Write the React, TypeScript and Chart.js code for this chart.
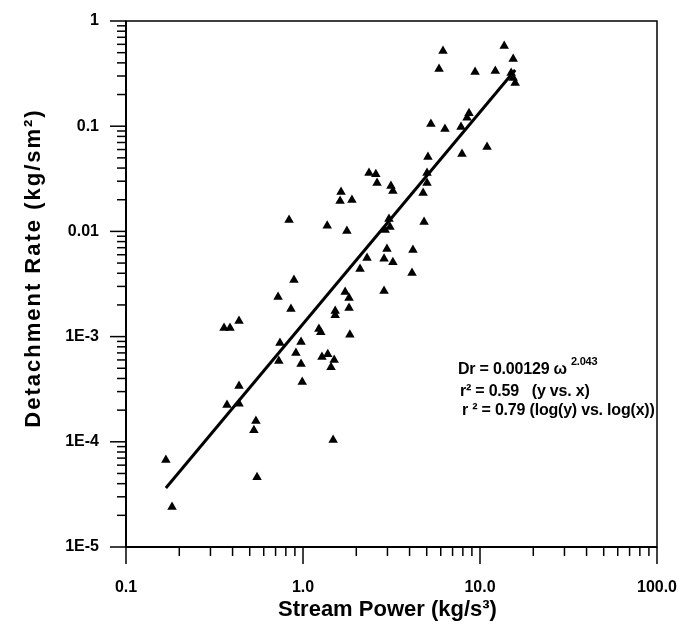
import React, { useEffect, useRef } from "react";
import { Chart, registerables } from "chart.js";

Chart.register(...registerables);

// ---- data ----
const STREAM_POWER = [
  0.168, 0.182, 0.55, 0.542, 0.528, 0.372, 0.435, 0.435, 0.358, 0.387,
  0.435, 0.723, 0.855, 0.889, 0.741, 0.73, 0.975, 0.912, 0.975, 0.99,
  1.23, 1.26, 1.28, 1.38, 1.5, 1.44, 1.48, 1.52, 1.52, 1.73,
  1.82, 1.82, 1.84, 2.87, 0.834, 1.37, 1.77, 1.64, 1.62, 1.89,
  2.1, 2.3, 2.36, 2.58, 2.62, 3.14, 3.22, 3.06, 3.1, 2.91,
  2.98, 2.87, 3.22, 4.18, 4.13, 4.83, 5.08, 5.02, 5.02, 4.77,
  5.28, 6.34, 6.18, 5.87, 7.91, 7.81, 8.45, 8.67, 10.96, 9.38,
  12.2, 13.7, 15.4, 15.0, 15.4, 15.8,
];
const DETACHMENT_RATE = [
  6.7e-5, 2.4e-5, 4.6e-5, 1.58e-4, 1.29e-4, 2.24e-4, 2.3e-4, 3.39e-4, 1.21e-3, 1.21e-3,
  1.41e-3, 2.38e-3, 1.83e-3, 3.45e-3, 8.7e-4, 5.86e-4, 8.9e-4, 6.98e-4, 5.5e-4, 3.7e-4,
  1.18e-3, 1.1e-3, 6.4e-4, 6.8e-4, 6.0e-4, 5.1e-4, 1.04e-4, 1.75e-3, 1.6e-3, 2.65e-3,
  2.33e-3, 1.87e-3, 1.04e-3, 2.71e-3, 0.0128, 0.0113, 0.0101, 0.0237, 0.0195, 0.0199,
  4.39e-3, 5.6e-3, 0.0359, 0.035, 0.0289, 0.027, 0.0242, 0.0131, 0.011, 0.0103,
  6.8e-3, 5.5e-3, 5.1e-3, 6.65e-3, 4.02e-3, 0.0123, 0.051, 0.0359, 0.0289, 0.0232,
  0.105, 0.094, 0.519, 0.35, 0.0544, 0.098, 0.12, 0.133, 0.0634, 0.327,
  0.335, 0.578, 0.435, 0.32, 0.287, 0.257,
];
const FIT_X = [0.168, 15.8];
const FIT_Y = [3.64e-5, 0.342];

const X_MAJOR = [0.1, 1, 10, 100];
const X_LABELS = ["0.1", "1.0", "10.0", "100.0"];
const Y_MAJOR = [1e-5, 1e-4, 1e-3, 0.01, 0.1, 1];
const Y_LABELS = ["1E-5", "1E-4", "1E-3", "0.01", "0.1", "1"];
const MINOR_STEPS = [2, 3, 4, 5, 6, 7, 8, 9];

const X_TITLE = "Stream Power (kg/s³)";
const Y_TITLE = "Detachment Rate (kg/sm²)";
const EQ_MAIN = "Dr = 0.00129 ω";
const EQ_EXP = "2.043";
const R2_LINES = ["r² = 0.59   (y vs. x)", "r ² = 0.79 (log(y) vs. log(x))"];
const NOTE_X = 7.5;
const NOTE_Y = [4.9e-4, 2.97e-4, 1.96e-4];

const FONT = "'Liberation Sans', Arial, Helvetica, sans-serif";

const framePlugin = {
  id: "frame",
  afterDraw(chart: any) {
    const { ctx, chartArea: a, scales } = chart;
    const xs = scales.x;
    const ys = scales.y;
    const line = (x1: number, y1: number, x2: number, y2: number) => {
      ctx.beginPath();
      ctx.moveTo(x1, y1);
      ctx.lineTo(x2, y2);
      ctx.stroke();
    };
    ctx.save();
    ctx.strokeStyle = "#000";
    ctx.fillStyle = "#000";
    ctx.lineWidth = 1.5;
    ctx.strokeRect(a.left, a.top, a.right - a.left, a.bottom - a.top);
    ctx.lineWidth = 2;
    line(a.left, a.top, a.left, a.bottom);
    line(a.left, a.bottom, a.right, a.bottom);

    // ticks
    ctx.lineWidth = 1.5;
    X_MAJOR.forEach((v, i) => {
      const px = xs.getPixelForValue(v);
      line(px, a.bottom, px, a.bottom + 17);
      if (i < X_MAJOR.length - 1) {
        MINOR_STEPS.forEach((m) => {
          const p = xs.getPixelForValue(v * m);
          line(p, a.bottom, p, a.bottom + 9);
        });
      }
    });
    Y_MAJOR.forEach((v, i) => {
      const py = ys.getPixelForValue(v);
      line(a.left - 16, py, a.left, py);
      if (i < Y_MAJOR.length - 1) {
        MINOR_STEPS.forEach((m) => {
          const p = ys.getPixelForValue(v * m);
          line(a.left - 9, p, a.left, p);
        });
      }
    });

    // axis titles
    ctx.font = `bold 22px ${FONT}`;
    ctx.textAlign = "center";
    ctx.textBaseline = "alphabetic";
    ctx.fillText(X_TITLE, (a.left + a.right) / 2 - 4, a.bottom + 69);

    ctx.save();
    ctx.translate(40, (a.top + a.bottom) / 2 - 16);
    ctx.rotate(-Math.PI / 2);
    (ctx as any).letterSpacing = "2px";
    ctx.fillText(Y_TITLE, 0, 0);
    ctx.restore();

    // annotation
    ctx.textAlign = "left";
    ctx.textBaseline = "middle";
    (ctx as any).letterSpacing = "-0.2px";
    const nx = xs.getPixelForValue(NOTE_X);
    ctx.font = `bold 16px ${FONT}`;
    const y0 = ys.getPixelForValue(NOTE_Y[0]);
    ctx.fillText(EQ_MAIN, nx, y0);
    const w = ctx.measureText(EQ_MAIN).width;
    ctx.font = `bold 11px ${FONT}`;
    ctx.fillText(EQ_EXP, nx + w + 4, y0 - 7);
    ctx.font = `bold 16px ${FONT}`;
    R2_LINES.forEach((t, i) => {
      ctx.fillText(t, nx + 2 + i * 2, ys.getPixelForValue(NOTE_Y[i + 1]));
    });
    (ctx as any).letterSpacing = "0px";
    ctx.restore();
  },
};

export default function App() {
  const canvasRef = useRef<HTMLCanvasElement | null>(null);

  useEffect(() => {
    if (!canvasRef.current) return;
    const points = STREAM_POWER.map((x, i) => ({ x, y: DETACHMENT_RATE[i] }));
    const fit = FIT_X.map((x, i) => ({ x, y: FIT_Y[i] }));
    const tickFont = { family: FONT, size: 16, weight: "bold" as const };
    const chart = new Chart(canvasRef.current, {
      type: "scatter",
      data: {
        datasets: [
          {
            data: fit,
            showLine: true,
            borderColor: "#000",
            borderWidth: 3,
            pointRadius: 0,
            fill: false,
          } as any,
          {
            data: points,
            pointStyle: "triangle",
            pointRadius: 5.5,
            backgroundColor: "#000",
            borderColor: "#000",
            borderWidth: 0,
          },
        ],
      },
      options: {
        animation: false,
        responsive: false,
        devicePixelRatio: 1,
        layout: { padding: { top: 21, right: 23, left: 0, bottom: 0 } },
        plugins: { legend: { display: false }, tooltip: { enabled: false } },
        scales: {
          x: {
            type: "logarithmic",
            min: 0.1,
            max: 100,
            afterBuildTicks: (s: any) => {
              s.ticks = X_MAJOR.map((v) => ({ value: v, major: true }));
            },
            afterFit: (s: any) => {
              s.height = 78;
              s.paddingLeft = 0;
              s.paddingRight = 0;
            },
            ticks: {
              callback: (_v: any, i: number) => X_LABELS[i],
              autoSkip: false,
              maxRotation: 0,
              padding: 31,
              color: "#000",
              font: tickFont,
            },
            grid: { display: false, drawTicks: false },
            border: { display: false },
          },
          y: {
            type: "logarithmic",
            min: 1e-5,
            max: 1,
            afterBuildTicks: (s: any) => {
              s.ticks = Y_MAJOR.map((v) => ({ value: v, major: true }));
            },
            afterFit: (s: any) => {
              s.width = 126;
              s.paddingTop = 0;
              s.paddingBottom = 0;
            },
            ticks: {
              callback: (_v: any, i: number) => Y_LABELS[i],
              autoSkip: false,
              padding: 27,
              color: "#000",
              font: tickFont,
            },
            grid: { display: false, drawTicks: false },
            border: { display: false },
          },
        },
      },
      plugins: [framePlugin],
    });
    return () => chart.destroy();
  }, []);

  return (
    <div style={{ position: "fixed", left: 0, top: 0, width: 680, height: 625, background: "#fff" }}>
      <canvas ref={canvasRef} width={680} height={625} style={{ width: 680, height: 625, display: "block" }} />
    </div>
  );
}
